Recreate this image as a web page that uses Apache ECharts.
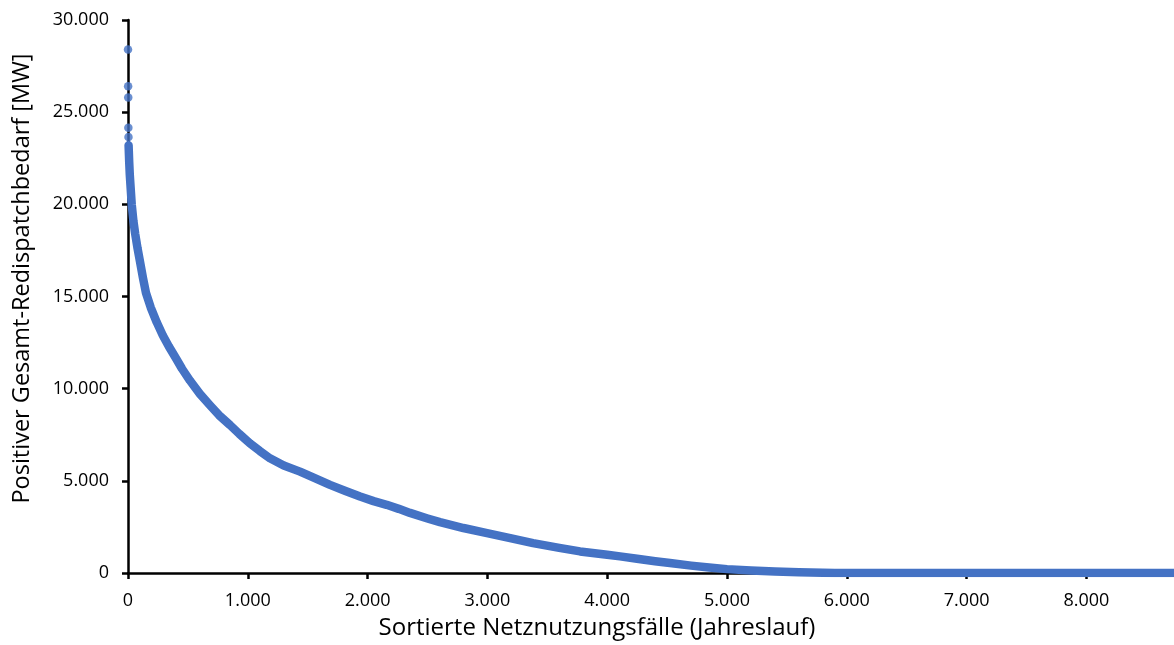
<!DOCTYPE html>
<html>
<head>
<meta charset="utf-8">
<script src="https://cdn.jsdelivr.net/npm/echarts@6/dist/echarts.min.js"></script>
<style>
  html, body { margin: 0; padding: 0; background: #fff; }
  #chart { width: 1174px; height: 645px; }
</style>
</head>
<body>
<div id="chart"></div>
<script>
// Sorted yearly duration curve of positive total redispatch demand (MW)
// Isolated peak hours at the very start of the sorted year
const peakHours = [0, 1, 2, 3, 4];
const peakMW    = [28400, 26400, 25800, 24150, 23650];

// Continuous part of the curve: hour rank and MW
const curveHours = [5, 10, 15, 22, 31, 45, 60, 80, 100, 125, 150, 190, 240, 290, 340, 400,
  451, 517, 600, 684, 760, 851, 930, 1018, 1100, 1185, 1300, 1436, 1545, 1686, 1810, 1937,
  2050, 2159, 2260, 2354, 2500, 2604, 2800, 2997, 3200, 3381, 3600, 3773, 4000, 4107, 4249,
  4400, 4524, 4700, 4850, 5000, 5200, 5400, 5600, 5800, 5900, 6500, 7000, 7500, 8000, 8760];
const curveMW = [23200, 22300, 21600, 20900, 20000, 19100, 18400, 17600, 16900, 16000, 15200,
  14400, 13600, 12900, 12300, 11650, 11080, 10440, 9720, 9100, 8560, 8030, 7540, 7030, 6620,
  6220, 5830, 5500, 5190, 4780, 4460, 4150, 3900, 3700, 3480, 3260, 2960, 2760, 2440, 2165,
  1880, 1620, 1360, 1170, 990, 900, 770, 640, 540, 400, 300, 210, 130, 75, 35, 8, 0, 0, 0,
  0, 0, 0];

const xTicks = [0, 1000, 2000, 3000, 4000, 5000, 6000, 7000, 8000];

const blue = '#4472C4';
const fmt = v => String(v).replace(/\B(?=(\d{3})+(?!\d))/g, '.');
const zip = (a, b) => a.map((x, i) => [x, b[i]]);

const chart = echarts.init(document.getElementById('chart'), null, { renderer: 'canvas' });
chart.setOption({
  animation: false,
  backgroundColor: '#fff',
  textStyle: { fontFamily: 'Open Sans', color: '#000' },
  grid: { left: 128, top: 20, right: 0, bottom: 70, containLabel: false },
  xAxis: {
    type: 'value',
    min: 0,
    max: 8731,
    interval: 1000,
    name: 'Sortierte Netznutzungsfälle (Jahreslauf)',
    nameLocation: 'middle',
    nameGap: 43,
    nameTextStyle: { fontSize: 24, color: '#000', fontFamily: 'Open Sans', padding: [0, 108, 0, 0] },
    splitLine: { show: false },
    axisLine: { lineStyle: { color: '#000', width: 2.5 } },
    axisTick: { show: true, inside: false, length: 6, lineStyle: { color: '#000', width: 2.5 }, customValues: xTicks },
    axisLabel: { fontSize: 18, color: '#000', margin: 19, formatter: fmt, customValues: xTicks }
  },
  yAxis: {
    type: 'value',
    min: 0,
    max: 30000,
    interval: 5000,
    name: 'Positiver Gesamt-Redispatchbedarf [MW]',
    nameLocation: 'middle',
    nameGap: 94,
    nameTextStyle: { fontSize: 23.5, color: '#000', fontFamily: 'Open Sans', padding: [0, 0, 0, 36] },
    splitLine: { show: false },
    axisLine: { show: true, lineStyle: { color: '#000', width: 2.5 } },
    axisTick: { show: true, inside: false, length: 6, lineStyle: { color: '#000', width: 2.5 } },
    axisLabel: { fontSize: 18, color: '#000', margin: 19, formatter: fmt }
  },
  series: [
    {
      name: 'Verlauf',
      type: 'line',
      data: zip(curveHours, curveMW),
      showSymbol: false,
      smooth: false,
      lineStyle: { color: blue, width: 8.5, cap: 'round', join: 'round' },
      z: 3
    },
    {
      name: 'Spitzen',
      type: 'scatter',
      data: zip(peakHours, peakMW),
      symbol: 'circle',
      symbolSize: 8.5,
      itemStyle: { color: blue },
      z: 4
    }
  ]
});
</script>
</body>
</html>
